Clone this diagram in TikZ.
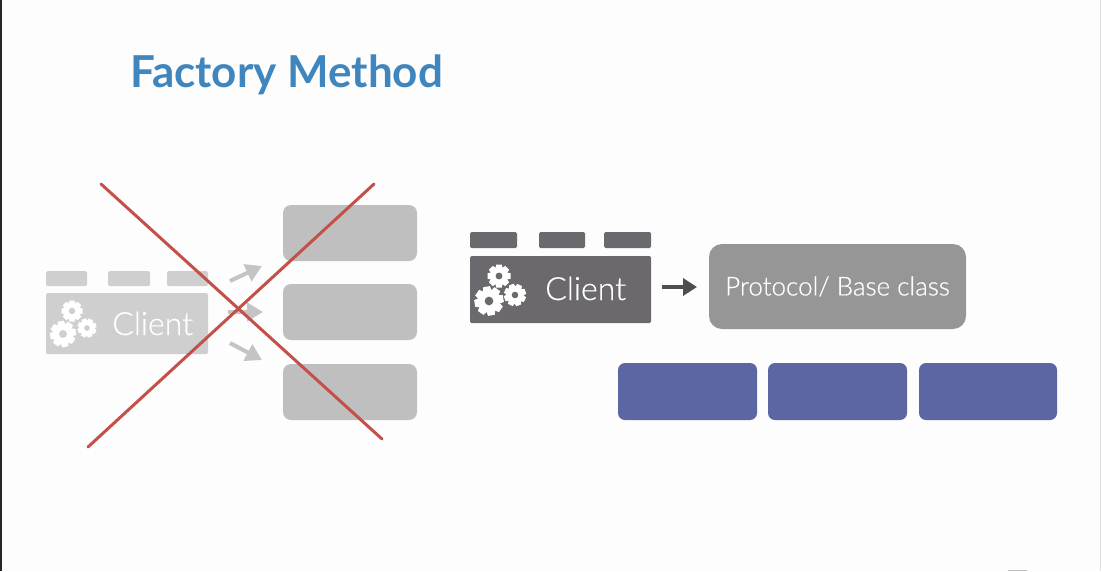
\documentclass[tikz,border=0pt]{standalone}
\usepackage{fontspec}
\setmainfont{Lato}
\newfontfamily\lightfont[FakeBold=0.5]{Lato Light}
\usetikzlibrary{arrows.meta}
\definecolor{pagebg}{HTML}{FDFDFD}
\definecolor{titleblue}{HTML}{3F86BE}
\definecolor{paleclient}{HTML}{CFCFCF}
\definecolor{palebox}{HTML}{BFBFBF}
\definecolor{palearrow}{HTML}{C4C4C4}
\definecolor{crossred}{HTML}{C4504A}
\definecolor{darkclient}{HTML}{6B696E}
\definecolor{darkarrow}{HTML}{4F4D52}
\definecolor{protocolgrey}{HTML}{969696}
\definecolor{implblue}{HTML}{5C66A3}
\tikzset{
  x=1pt,y=-1pt,
  block/.style={inner sep=0pt,outer sep=0pt,anchor=north west,minimum width=#1},
  paletab/.style={block=#1,fill=paleclient,rounded corners=1.5pt,minimum height=15pt},
  darktab/.style={block=#1,fill=darkclient,rounded corners=1.5pt,minimum height=16pt},
  sidebox/.style={block=134pt,fill=palebox,rounded corners=8pt,minimum height=56pt},
  implbox/.style={block=#1,fill=implblue,rounded corners=7pt,minimum height=57pt},
  clienttext/.style={text=white,font=\lightfont\fontsize{32}{32}\selectfont,inner sep=0pt},
  palearrowstyle/.style={draw=palearrow,line width=4pt,-{Triangle[length=16pt,width=18pt]}},
  crossline/.style={draw=crossred,line width=3pt,line cap=round},
  pics/gear/.style n args={3}{code={
    \foreach \a in {0,45,...,315}{
      \fill[white,rotate=\a+#3] (-0.24*#1,-1.0*#1) -- (0.24*#1,-1.0*#1) -- (0.34*#1,-0.5*#1) -- (-0.34*#1,-0.5*#1) -- cycle;
    }
    \fill[white] (0,0) circle[radius=0.78*#1];
    \fill[#2] (0,0) circle[radius=0.3*#1];
  }}
}
\begin{document}
\begin{tikzpicture}
\useasboundingbox (0,0) rectangle (1101,571);
\fill[pagebg] (0,0) rectangle (1101,571);
\fill[black!85] (0,0) rectangle (2,571);
\fill[black!12] (1099.5,0) rectangle (1101,571);
\fill[black!25] (1008,569.5) rectangle (1027,571);

\node[anchor=base west,inner sep=0pt,text=titleblue,font=\bfseries\fontsize{44}{44}\selectfont] (title) at (130,87) {Factory Method};

% left, struck out
\node[paletab=41pt] (lt1) at (46,271) {};
\node[paletab=42pt] (lt2) at (108,271) {};
\node[paletab=41pt] (lt3) at (167,271) {};
\node[block=162pt,fill=paleclient,rounded corners=1.5pt,minimum height=61pt] (lclient) at (46,293) {};
\pic at (63,334) {gear={13}{paleclient}{10}};
\pic at (72,311) {gear={10.5}{paleclient}{0}};
\pic at (87,328) {gear={9.5}{paleclient}{20}};
\node[clienttext,anchor=base west] (ltext) at (112,335) {Client};
\node[sidebox] (b1) at (283,205) {};
\node[sidebox] (b2) at (283,284) {};
\node[sidebox] (b3) at (283,364) {};
\coordinate (a1s) at (230,281); \coordinate (a1e) at (262,266);
\coordinate (a2s) at (228,312); \coordinate (a2e) at (263,312);
\coordinate (a3s) at (230,343); \coordinate (a3e) at (262,360);
\draw[palearrowstyle] (a1s) -- (a1e);
\draw[palearrowstyle] (a2s) -- (a2e);
\draw[palearrowstyle] (a3s) -- (a3e);
\coordinate (c1) at (101,184); \coordinate (c2) at (382,439);
\coordinate (c3) at (374,184); \coordinate (c4) at (88,447);
\draw[crossline] (c1) -- (c2);
\draw[crossline] (c3) -- (c4);

% right
\node[darktab=47pt] (rt1) at (470,232) {};
\node[darktab=46pt] (rt2) at (539,232) {};
\node[darktab=47pt] (rt3) at (604,232) {};
\node[block=181pt,fill=darkclient,rounded corners=1.5pt,minimum height=67pt] (rclient) at (470,256) {};
\pic at (489,301) {gear={14.5}{darkclient}{10}};
\pic at (499,276) {gear={11.5}{darkclient}{0}};
\pic at (515,295) {gear={11}{darkclient}{20}};
\node[clienttext,anchor=base west] (rtext) at (545,300) {Client};
\node[block=257pt,fill=protocolgrey,rounded corners=13pt,minimum height=85pt,text=white,font=\lightfont\fontsize{26}{26}\selectfont,align=center] (proto) at (709,244) {Protocol/ Base class};
\draw[draw=darkarrow,line width=3.4pt,-{Triangle[length=14pt,width=17pt]},shorten >=12pt,shorten <=11pt] (rclient.east |- 0,287) -- (proto.west |- 0,287);
\node[implbox=139pt] (i1) at (618,363) {};
\node[implbox=139pt] (i2) at (768,363) {};
\node[implbox=138pt] (i3) at (919,363) {};
\end{tikzpicture}
\end{document}
